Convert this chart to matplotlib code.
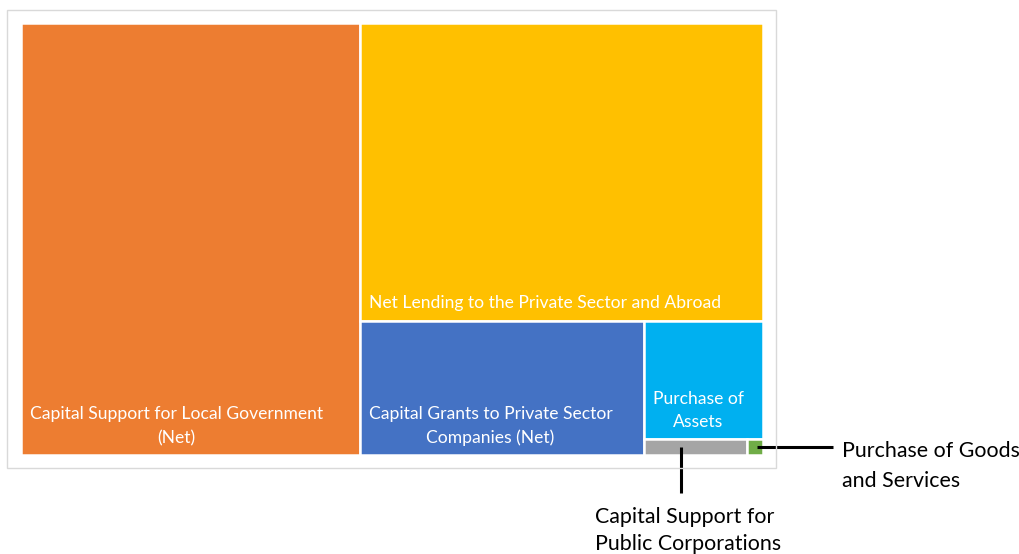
import matplotlib
matplotlib.use("Agg")
import matplotlib.pyplot as plt
from matplotlib.patches import Rectangle

plt.rcParams["font.family"] = ["Lato", "DejaVu Sans"]

# spending by category (GBP million)
categories = [
    "Capital Support for Local Government (Net)",
    "Net Lending to the Private Sector and Abroad",
    "Capital Grants to Private Sector Companies (Net)",
    "Purchase of Assets",
    "Capital Support for Public Corporations",
    "Purchase of Goods and Services",
]
values = [9130, 7495, 2389, 880, 103, 16]
colors = ["#ED7D31", "#FFC000", "#4472C4", "#00B0F0", "#A5A5A5", "#70AD47"]
# wrapped labels as shown inside the boxes (None = labelled outside)
inner_labels = [
    "Capital Support for Local Government\n(Net)",
    "Net Lending to the Private Sector and Abroad",
    "Capital Grants to Private Sector\nCompanies (Net)",
    "Purchase of\nAssets",
    None,
    None,
]
outer_labels = {
    4: "Capital Support for\nPublic Corporations",
    5: "Purchase of Goods\nand Services",
}


def worst(row, side):
    s = sum(row)
    return max(max(side ** 2 * r / s ** 2, s ** 2 / (side ** 2 * r)) for r in row)


def squarify(vals, x, y, w, h):
    total = sum(vals)
    areas = [v * w * h / total for v in vals]
    rects = []
    i = 0
    while i < len(areas):
        side = min(w, h)
        row = [areas[i]]
        i += 1
        while i < len(areas) and worst(row + [areas[i]], side) <= worst(row, side):
            row.append(areas[i])
            i += 1
        s = sum(row)
        if w >= h:
            cw = s / h
            cy = y
            for r in row:
                rects.append((x, cy, cw, r / cw))
                cy += r / cw
            x += cw
            w -= cw
        else:
            rh = s / w
            cx = x
            for r in row:
                rects.append((cx, y, r / rh, rh))
                cx += r / rh
            y += rh
            h -= rh
    return rects


W, H = 742, 432
fig = plt.figure(figsize=(10.2, 5.54), dpi=100)
ax = fig.add_axes([21 / 1020, 1 - 455 / 554, W / 1020, H / 554])
ax.set_xlim(0, W)
ax.set_ylim(H, 0)
ax.axis("off")

# chart frame
fig.patches.append(Rectangle((7.5 / 1020, 1 - 468 / 554), 769 / 1020, 458.5 / 554,
                             transform=fig.transFigure, fill=False,
                             edgecolor="#d9d9d9", linewidth=1))

rects = squarify(values, 0, 0, W, H)
for (x, y, w, h), c, lab in zip(rects, colors, inner_labels):
    ax.add_patch(Rectangle((x, y), w, h, facecolor=c, edgecolor="white", linewidth=1.8))
    if lab:
        ax.annotate(lab, xy=(x, y + h), xytext=(6.5, 6.5), textcoords="offset points",
                    ha="left", va="bottom", multialignment="center",
                    color="white", fontsize=12.6, linespacing=1.57)

# callouts
x, y, w, h = rects[4]
ax.plot([x + w * 0.36, x + w * 0.36], [y + h / 2, y + h / 2 + 46], color="black",
        lw=2.2, clip_on=False, solid_capstyle="butt")
ax.annotate(outer_labels[4], xy=(x + w * 0.36, y + h / 2), xytext=(-62, -43),
            textcoords="offset points", ha="left", va="top", fontsize=15.4,
            linespacing=1.43, annotation_clip=False)
x, y, w, h = rects[5]
ax.plot([x + w * 0.6, x + w + 70], [y + h / 2, y + h / 2], color="black",
        lw=2.2, clip_on=False, solid_capstyle="butt")
ax.annotate(outer_labels[5], xy=(x + w, y + h / 2), xytext=(57, 4),
            textcoords="offset points", ha="left", va="top", fontsize=15.4,
            linespacing=1.59, annotation_clip=False)

fig.savefig("out.png", dpi=100)
